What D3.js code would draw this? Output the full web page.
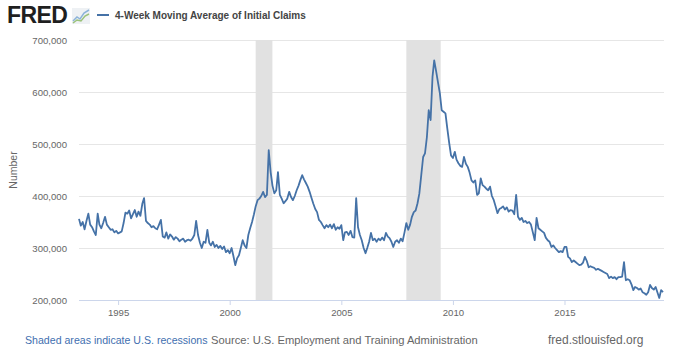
<!DOCTYPE html>
<html><head><meta charset="utf-8">
<script src="https://cdn.jsdelivr.net/npm/d3@7"></script>
<style>body{margin:0;background:#fff;}svg{display:block;font-family:"Liberation Sans",Arial,sans-serif;}</style>
</head><body><svg id="c" width="680" height="360"></svg>
<script>
// Monthly values (thousands), April 1993 .. June 2019
const startMonth = "1993-04";
const claims = [
 356,343,350,336,352,366,345,340,332,
 325,366,345,338,348,360,345,340,335,336,330,333,
 328,330,332,348,368,366,372,357,365,373,360,370,
 362,385,396,352,348,345,340,342,338,336,345,354,
 322,320,330,318,326,322,316,321,318,313,316,318,
 312,315,316,314,318,325,352,325,310,300,312,310,
 335,310,305,312,302,306,300,304,298,303,292,296,
 290,300,285,267,280,286,300,315,305,300,325,338,
 350,365,380,392,395,400,408,398,402,488,446,420,
 405,411,446,402,395,386,390,395,408,398,392,400,
 411,420,430,440,432,425,418,408,396,385,375,369,
 354,350,344,338,344,340,345,338,346,335,340,337,
 344,315,330,331,325,333,321,320,396,340,325,315,
 300,290,300,312,329,315,318,312,318,315,320,315,
 329,322,319,312,302,312,315,310,318,313,330,348,
 335,345,360,369,372,386,405,440,475,482,513,565,
 546,629,661,640,619,598,565,562,559,530,502,478,
 473,485,470,463,458,456,475,462,456,445,430,426,
 430,402,405,434,421,418,414,411,418,400,392,380,
 367,375,377,380,374,378,370,373,372,365,402,360,
 354,358,350,352,348,350,345,330,315,358,338,335,
 332,329,320,315,312,302,305,300,296,292,294,292,
 302,302,283,280,273,276,273,270,267,268,272,283,
 275,263,265,263,262,258,260,258,256,254,252,250,
 242,245,242,244,240,244,244,245,273,238,240,238,
 230,219,225,223,220,222,215,213,210,215,229,223,
 220,225,215,204,219,215
];
const recessionStarts = ["2001-03-01","2007-12-01"];
const recessionEnds = ["2001-11-30","2009-06-15"];
const yTicks = [200000,300000,400000,500000,600000,700000];
const xTickYears = [1995,2000,2005,2010,2015];
const seriesTitle = "4-Week Moving Average of Initial Claims";
const yTitle = "Number";
const noteText = "Shaded areas indicate U.S. recessions";
const sourceText = "Source: U.S. Employment and Training Administration";
const siteText = "fred.stlouisfed.org";

const parseM = d3.timeParse("%Y-%m");
const parseD = d3.timeParse("%Y-%m-%d");
const start = parseM(startMonth);
const data = claims.map((v,i)=>({date:d3.timeMonth.offset(start,i), value:v*1000}));

const svg = d3.select("#c");
const L=79, R=663, T=40, B=300;
const x = d3.scaleTime().domain([data[0].date, data[data.length-1].date]).range([L,R]);
const y = d3.scaleLinear().domain([200000,700000]).range([B,T]);

// header
const hdr = svg.append("g");
hdr.append("text").attr("x",7).attr("y",23).attr("font-size",23).attr("font-weight","bold")
  .attr("fill","#1f1f1f").attr("letter-spacing",-0.6).text("FRED");
const ic = hdr.append("g").attr("transform","translate(72,8)");
ic.append("rect").attr("x",0).attr("y",0).attr("width",18).attr("height",16).attr("fill","#eef1f4");
ic.append("polyline").attr("points","1,13 5,9 8,11 12,5 17,2").attr("fill","none").attr("stroke","#8cb3d9").attr("stroke-width",1.5);
ic.append("polyline").attr("points","1,15 5,12 9,13 13,8 17,6").attr("fill","none").attr("stroke","#9bc27a").attr("stroke-width",1.5);
hdr.append("line").attr("x1",97).attr("x2",109).attr("y1",15).attr("y2",15).attr("stroke","#4572a7").attr("stroke-width",2);
hdr.append("text").attr("x",115).attr("y",19).attr("font-size",10).attr("font-weight","bold").attr("fill","#444").text(seriesTitle);

// gridlines
svg.append("g").selectAll("line").data(yTicks).join("line")
  .attr("x1",L).attr("x2",R+1).attr("y1",d=>y(d)+0.5).attr("y2",d=>y(d)+0.5)
  .attr("stroke","#e6e6e6");

// recessions
svg.append("g").selectAll("rect").data(recessionStarts.map((s,i)=>[parseD(s),parseD(recessionEnds[i])])).join("rect")
  .attr("x",d=>x(d[0])).attr("width",d=>x(d[1])-x(d[0])).attr("y",T).attr("height",B-T)
  .attr("fill","#e1e1e1");

// y axis labels
const yAxis = d3.axisLeft(y).tickValues(yTicks).tickFormat(d3.format(",")).tickSize(0).tickPadding(0);
const yg = svg.append("g").attr("transform",`translate(${L-12},0)`).call(yAxis);
yg.select(".domain").remove();
yg.selectAll("text").attr("font-size",9.6).attr("fill","#666").attr("font-family","Liberation Sans, Arial").attr("dy","0.35em");

// x axis
const xAxis = d3.axisBottom(x).tickValues(xTickYears.map(yv=>new Date(yv,0,1))).tickFormat(d3.timeFormat("%Y")).tickSize(5).tickPadding(4);
const xg = svg.append("g").attr("transform",`translate(0,${B})`).call(xAxis);
xg.select(".domain").attr("d",`M${L},0.5H${R+1}`).attr("stroke","#ccd6eb");
xg.selectAll(".tick line").attr("stroke","#ccd6eb");
xg.selectAll("text").attr("font-size",9.6).attr("fill","#666").attr("font-family","Liberation Sans, Arial");

// y title
svg.append("text").attr("transform","translate(17,170) rotate(-90)").attr("text-anchor","middle")
  .attr("font-size",10.5).attr("fill","#666").text(yTitle);

// line
svg.append("path").datum(data)
  .attr("d",d3.line().x(d=>x(d.date)).y(d=>y(d.value)))
  .attr("fill","none").attr("stroke","#4572a7").attr("stroke-width",1.8).attr("stroke-linejoin","round");

// footer
svg.append("text").attr("x",25).attr("y",344).attr("font-size",10.6).attr("fill","#3f6fb0").text(noteText);
svg.append("text").attr("x",211).attr("y",344).attr("font-size",11.2).attr("fill","#666").text(sourceText);
svg.append("text").attr("x",548).attr("y",344).attr("font-size",12).attr("fill","#666").text(siteText);
</script></body></html>
